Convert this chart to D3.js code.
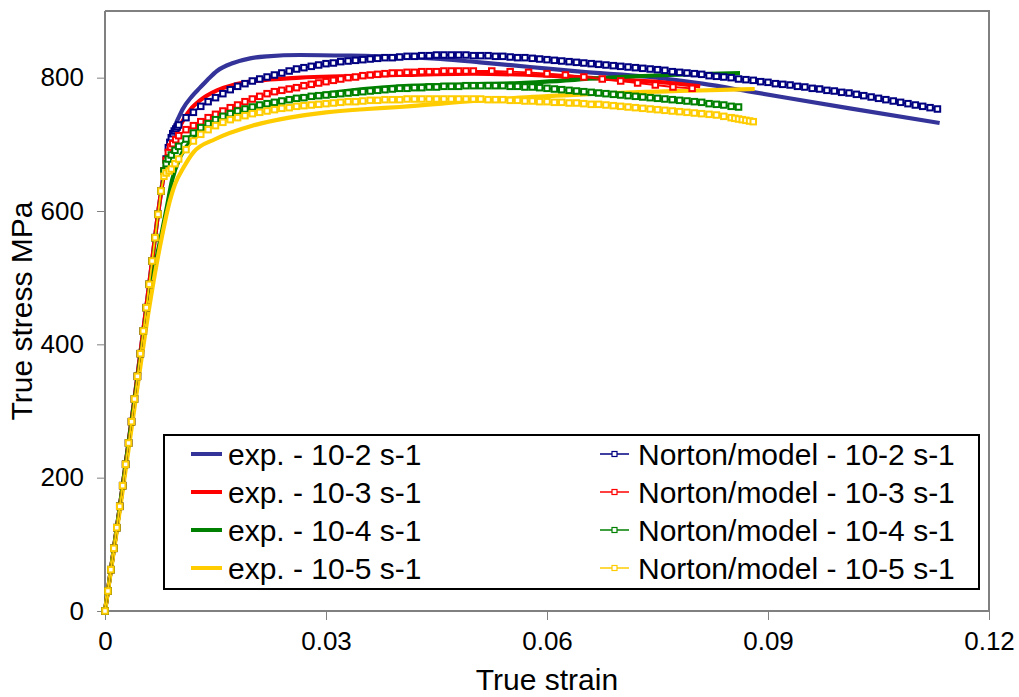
<!DOCTYPE html>
<html>
<head>
<meta charset="utf-8">
<script src="https://cdn.jsdelivr.net/npm/d3@7/dist/d3.min.js"></script>
<style>
  html, body { margin: 0; padding: 0; background: #ffffff; }
  svg { display: block; font-family: "Liberation Sans", Arial, sans-serif; }
</style>
</head>
<body>
<svg id="chart" width="1019" height="697"></svg>
<script>
// ---- axis ticks ----
const xTicks = [0, 0.03, 0.06, 0.09, 0.12];
const xTickLabels = ["0", "0.03", "0.06", "0.09", "0.12"];
const yTicks = [0, 200, 400, 600, 800];
const yTickLabels = ["0", "200", "400", "600", "800"];

// ---- measured curves: [true strain, true stress MPa] ----
const exp2 = [[0,0],[0.002,155],[0.004,318],[0.006,490],[0.0075,620],[0.0085,690],[0.0092,718],[0.0105,752],
  [0.0118,772],[0.0129,785],[0.0142,800],[0.0152,810],[0.0174,822],[0.0197,829],[0.022,832],[0.0265,834],
  [0.0333,833],[0.04,831],[0.0455,828],[0.0509,823],[0.0577,816],[0.0645,809],[0.074,801],[0.0811,791],
  [0.0876,779],[0.1011,754],[0.1133,732]];
const exp3 = [[0,0],[0.002,155],[0.004,318],[0.006,490],[0.0075,620],[0.0084,680],[0.0095,712],[0.0106,736],
  [0.0118,755],[0.0129,766],[0.0152,781],[0.0174,789],[0.0197,794],[0.0265,800],[0.04,804],[0.05,806],
  [0.06,803],[0.0699,797],[0.0767,792],[0.0808,787]];
const exp4 = [[0,0],[0.002,155],[0.004,315],[0.006,470],[0.007,530],[0.0077,567],[0.0084,606],[0.0091,646],
  [0.0102,681],[0.012,708],[0.015,733],[0.02,755],[0.025,767],[0.03,776],[0.04,787],[0.05,790],
  [0.0563,792],[0.0699,801],[0.0862,807]];
const exp5 = [[0,0],[0.002,150],[0.004,305],[0.006,455],[0.007,520],[0.0077,560],[0.0085,602],[0.0095,640],
  [0.0106,664],[0.012,688],[0.015,708],[0.02,728],[0.025,740],[0.03,748],[0.0356,753],[0.04,756],
  [0.05,765],[0.0563,770],[0.065,775],[0.078,780],[0.0882,783]];

// ---- Norton model: shared elastic loading branch ----
const modelElastic = [[0,0],[0.0004,30],[0.0008,62],[0.0012,94],[0.0016,125],[0.002,157],[0.0024,188],
  [0.0028,220],[0.0032,252],[0.0036,284],[0.004,318],[0.0044,352],[0.0048,386],[0.0052,420],[0.0056,455],
  [0.006,490],[0.0064,525],[0.0068,560],[0.0072,595],[0.0076,630]];

// ---- Norton model: plastic branches ----
const model2 = [[0.008,660],[0.0083,678],[0.0086,695],[0.0088,703],[0.009,710],[0.0092,716],[0.0094,720],
  [0.0096,723],[0.0098,726],[0.010,729],[0.011,740],[0.012,748],[0.013,757],[0.014,764],[0.015,770],
  [0.016,776],[0.017,782],[0.018,787],[0.019,791],[0.020,795],[0.021,798],[0.022,801],[0.023,804],
  [0.024,807],[0.025,810],[0.026,813],[0.027,815],[0.028,817],[0.029,819],[0.030,821],[0.031,822],
  [0.032,824],[0.033,825],[0.034,826],[0.035,827],[0.036,828],[0.037,829],[0.038,830],[0.039,830],
  [0.040,831],[0.041,832],[0.042,832],[0.043,833],[0.044,833],[0.045,834],[0.046,834],[0.047,834],
  [0.048,834],[0.049,834],[0.050,833],[0.051,833],[0.052,833],[0.053,832],[0.054,832],[0.055,831],
  [0.056,830],[0.057,830],[0.058,829],[0.059,828],[0.060,827],[0.061,826],[0.062,825],[0.063,824],
  [0.064,823],[0.065,822],[0.066,821],[0.067,820],[0.068,819],[0.069,818],[0.070,817],[0.071,816],
  [0.072,815],[0.073,814],[0.074,813],[0.075,812],[0.076,811],[0.077,809],[0.078,808],[0.079,807],
  [0.080,806],[0.081,805],[0.082,803],[0.083,802],[0.084,801],[0.085,800],[0.086,798],[0.087,797],
  [0.088,796],[0.089,794],[0.090,793],[0.091,791],[0.092,790],[0.093,789],[0.094,787],[0.095,786],
  [0.096,784],[0.097,783],[0.098,781],[0.099,780],[0.100,778],[0.101,777],[0.102,775],[0.103,773],
  [0.104,771],[0.105,769],[0.106,767],[0.107,765],[0.108,763],[0.109,761],[0.110,759],[0.111,757],
  [0.112,755],[0.113,753]];
const model3 = [[0.008,660],[0.0083,676],[0.0086,688],[0.0089,696],[0.0092,701],[0.0096,707],[0.010,713],
  [0.011,722],[0.012,728],[0.013,734],[0.014,740],[0.015,745],[0.016,750],[0.017,755],[0.018,759],
  [0.019,764],[0.020,768],[0.021,772],[0.022,776],[0.023,779],[0.024,781],[0.025,783],[0.026,785],
  [0.027,788],[0.028,790],[0.029,792],[0.030,794],[0.031,796],[0.032,798],[0.033,800],[0.034,801],
  [0.035,803],[0.036,804],[0.037,805],[0.038,806],[0.039,807],[0.040,807],[0.041,808],[0.042,808],
  [0.043,809],[0.044,809],[0.045,809],[0.046,810],[0.047,810],[0.048,810],[0.049,810],[0.050,810],
  [0.0525,810],[0.055,809],[0.0575,808],[0.060,806],[0.0625,804],[0.065,801],[0.0675,798],[0.070,795],
  [0.0723,792],[0.0747,789],[0.0771,786],[0.0797,784]];
const model4 = [[0.008,660],[0.0083,671],[0.0086,678],[0.009,684],[0.0095,691],[0.010,697],[0.011,708],
  [0.012,717],[0.013,725],[0.014,731],[0.015,737],[0.016,742],[0.017,746],[0.018,750],[0.019,753],
  [0.020,756],[0.021,759],[0.022,761],[0.023,763],[0.024,765],[0.025,767],[0.026,769],[0.027,770],
  [0.028,772],[0.029,773],[0.030,774],[0.031,775],[0.032,776],[0.033,777],[0.034,778],[0.035,779],
  [0.036,780],[0.037,781],[0.038,782],[0.039,783],[0.040,784],[0.041,784],[0.042,785],[0.043,785],
  [0.044,786],[0.045,786],[0.046,787],[0.047,787],[0.048,787],[0.049,788],[0.050,788],[0.051,788],
  [0.052,788],[0.053,788],[0.054,788],[0.055,787],[0.056,787],[0.057,786],[0.058,786],[0.059,785],
  [0.060,784],[0.061,783],[0.062,782],[0.063,781],[0.064,780],[0.065,779],[0.066,778],[0.067,777],
  [0.068,776],[0.069,775],[0.070,774],[0.071,773],[0.072,772],[0.073,771],[0.074,770],[0.075,769],
  [0.076,768],[0.077,767],[0.078,766],[0.079,765],[0.080,764],[0.081,763],[0.082,761],[0.083,760],
  [0.084,759],[0.085,757],[0.086,756]];
const model5 = [[0.008,652],[0.0083,657],[0.0087,660],[0.009,663],[0.0095,671],[0.010,678],[0.011,692],
  [0.012,705],[0.013,715],[0.014,722],[0.015,728],[0.016,733],[0.017,737],[0.018,740],[0.019,743],
  [0.020,746],[0.021,748],[0.022,750],[0.023,752],[0.024,754],[0.025,755],[0.026,757],[0.027,758],
  [0.028,759],[0.029,760],[0.030,761],[0.031,762],[0.032,763],[0.033,764],[0.034,764],[0.035,765],
  [0.036,766],[0.037,766],[0.038,767],[0.039,767],[0.040,767],[0.041,768],[0.042,768],[0.043,768],
  [0.044,768],[0.045,768],[0.046,768],[0.047,768],[0.048,768],[0.049,768],[0.050,768],[0.051,768],
  [0.052,767],[0.053,767],[0.054,767],[0.055,766],[0.056,766],[0.057,765],[0.058,765],[0.059,764],
  [0.060,764],[0.061,763],[0.062,763],[0.063,762],[0.064,762],[0.065,761],[0.066,760],[0.067,760],
  [0.068,759],[0.069,758],[0.070,757],[0.071,756],[0.072,755],[0.073,754],[0.074,753],[0.075,752],
  [0.076,751],[0.077,750],[0.078,749],[0.079,748],[0.080,747],[0.081,746],[0.082,745],[0.083,744],
  [0.084,742],[0.085,740],[0.0855,739],[0.086,738],[0.0865,737],[0.087,736],[0.0875,735],[0.088,734]];

// ---- series names & colours ----
const expNames = ["exp. - 10-2 s-1", "exp. - 10-3 s-1", "exp. - 10-4 s-1", "exp. - 10-5 s-1"];
const modelNames = ["Norton/model - 10-2 s-1", "Norton/model - 10-3 s-1", "Norton/model - 10-4 s-1", "Norton/model - 10-5 s-1"];
const expColors = ["#333399", "#ff0000", "#008000", "#ffcc00"];
const modelColors = ["#000080", "#ff0000", "#008000", "#ffcc00"];

const expSeries = [exp2, exp3, exp4, exp5].map((d, i) => ({ name: expNames[i], color: expColors[i], data: d }));
const modelSeries = [model2, model3, model4, model5].map((d, i) => ({
  name: modelNames[i], color: modelColors[i], data: modelElastic.concat(d)
}));

// ---- layout ----
const W = 1019, H = 697;
const margin = { left: 105, top: 11, right: 30, bottom: 86 };
const svg = d3.select("#chart");

const x = d3.scaleLinear().domain([0, 0.12]).range([margin.left, W - margin.right]);
const y = d3.scaleLinear().domain([0, 900]).range([H - margin.bottom, margin.top]);

const axisGrey = "#808080";

// plot frame (top and right)
svg.append("path")
  .attr("d", `M${x(0)},${y(900)}H${x(0.12)}V${y(0)}`)
  .attr("fill", "none").attr("stroke", axisGrey).attr("stroke-width", 2);

// x axis
const xAxis = svg.append("g").attr("transform", `translate(0,${y(0)})`)
  .call(d3.axisBottom(x).tickValues(xTicks).tickFormat((d, i) => xTickLabels[i]).tickSizeOuter(0).tickSizeInner(9).tickPadding(12));
// y axis
const yAxis = svg.append("g").attr("transform", `translate(${x(0)},0)`)
  .call(d3.axisLeft(y).tickValues(yTicks).tickFormat((d, i) => yTickLabels[i]).tickSizeOuter(0).tickSizeInner(8).tickPadding(13));

[xAxis, yAxis].forEach(g => {
  g.select(".domain").attr("stroke", axisGrey).attr("stroke-width", 2);
  g.selectAll(".tick line").attr("stroke", axisGrey).attr("stroke-width", 1);
  g.selectAll(".tick text").attr("fill", "#000").attr("font-size", 26)
    .attr("font-family", "Liberation Sans, Arial, sans-serif");
});
// extend domains so the axes meet at the origin corner
xAxis.select(".domain").attr("d", `M${x(0) - 1},0H${x(0.12)}`);
yAxis.select(".domain").attr("d", `M0,${y(0) + 1}V${y(900)}`);

// axis titles
svg.append("text").attr("x", (x(0) + x(0.12)) / 2).attr("y", 690)
  .attr("text-anchor", "middle").attr("font-size", 30).text("True strain");
svg.append("text").attr("transform", `translate(32,${(y(0) + y(900)) / 2}) rotate(-90)`)
  .attr("text-anchor", "middle").attr("font-size", 30).text("True stress MPa");

// ---- curves ----
const plot = svg.append("g");
const smoothLine = d3.line().x(d => x(d[0])).y(d => y(d[1])).curve(d3.curveMonotoneX);
const straightLine = d3.line().x(d => x(d[0])).y(d => y(d[1]));

expSeries.forEach(s => {
  plot.append("path").attr("d", smoothLine(s.data))
    .attr("fill", "none").attr("stroke", s.color).attr("stroke-width", 4.2)
    .attr("stroke-linejoin", "round").attr("stroke-linecap", "butt");
});

const mk = 5.5;
modelSeries.forEach(s => {
  const g = plot.append("g");
  g.append("path").attr("d", straightLine(s.data))
    .attr("fill", "none").attr("stroke", s.color).attr("stroke-width", 1.8);
  g.selectAll("rect").data(s.data).join("rect")
    .attr("x", d => x(d[0]) - mk / 2).attr("y", d => y(d[1]) - mk / 2)
    .attr("width", mk).attr("height", mk)
    .attr("fill", "#ffffff").attr("stroke", s.color).attr("stroke-width", 2);
});

// ---- legend ----
const legend = svg.append("g");
legend.append("rect").attr("x", 164).attr("y", 435).attr("width", 815).attr("height", 154)
  .attr("fill", "#ffffff").attr("stroke", "#000000").attr("stroke-width", 2);

const rowY = [454, 492, 530, 568];
expSeries.forEach((s, i) => {
  legend.append("line").attr("x1", 191).attr("x2", 222).attr("y1", rowY[i]).attr("y2", rowY[i])
    .attr("stroke", s.color).attr("stroke-width", 4);
  legend.append("text").attr("x", 228).attr("y", rowY[i] + 11).attr("font-size", 30).text(s.name);
});
modelSeries.forEach((s, i) => {
  legend.append("line").attr("x1", 600).attr("x2", 629).attr("y1", rowY[i]).attr("y2", rowY[i])
    .attr("stroke", s.color).attr("stroke-width", 1.5);
  legend.append("rect").attr("x", 614.5 - 2.5).attr("y", rowY[i] - 2.5).attr("width", 5).attr("height", 5)
    .attr("fill", "#ffffff").attr("stroke", s.color).attr("stroke-width", 1.2);
  legend.append("text").attr("x", 638).attr("y", rowY[i] + 11).attr("font-size", 30).text(s.name);
});
</script>
</body>
</html>
